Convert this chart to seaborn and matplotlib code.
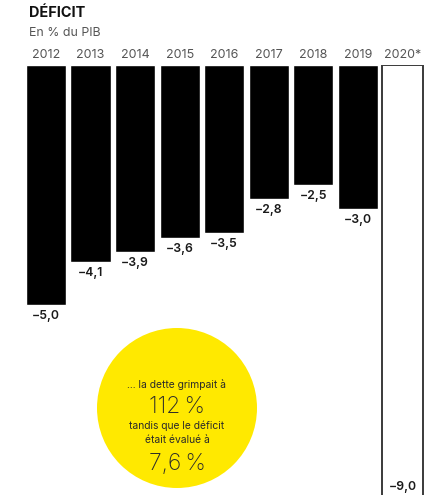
import matplotlib
matplotlib.use("Agg")
import matplotlib.pyplot as plt
from matplotlib.patches import Ellipse
import seaborn as sns
import pandas as pd

# Public deficit, % of GDP
years = ["2012", "2013", "2014", "2015", "2016", "2017", "2018", "2019", "2020*"]
deficit = [-5.0, -4.1, -3.9, -3.6, -3.5, -2.8, -2.5, -3.0, -9.0]

title = "DÉFICIT"
subtitle = "En % du PIB"
bubble_lines = ["... la dette grimpait à", "112\u2009%", "tandis que le déficit",
                "était évalué à", "7,6\u2009%"]

sns.set_theme(style="white")
plt.rcParams["font.family"] = ["Inter", "DejaVu Sans"]

W, H = 431, 495
fig = plt.figure(figsize=(W / 100, H / 100), dpi=100)

# axes geometry in pixels
left_px, right_px = 23.7, 424.8
top_px = 65
px_per_unit = 48
ax = fig.add_axes([left_px / W, 0, (right_px - left_px) / W, (H - top_px) / H])

df = pd.DataFrame({"year": years, "deficit": deficit})
sns.barplot(data=df, x="year", y="deficit", color="black", width=0.9,
            saturation=1, ax=ax)
ax.set_xlim(-0.5, len(years) - 0.5)
ax.set_ylim(-(H - top_px) / px_per_unit, 0)
ax.axis("off")

# projected year: outlined bar
last = ax.patches[len(years) - 1]
last.set_facecolor("white")
last.set_edgecolor("#3a3a3a")
last.set_linewidth(1.4)

# value labels
for i, v in enumerate(deficit):
    txt = "−" + f"{abs(v):.1f}".replace(".", ",")
    if i == len(deficit) - 1:
        y = v + 0.2
    else:
        y = v - 0.23
    ax.text(i, y, txt, ha="center", va="center", fontsize=8.8,
            fontweight="semibold", color="#1a1a1a")

# year labels above bars
for i, yr in enumerate(years):
    ax.text(i, 0.2, yr, ha="center", va="center", fontsize=9,
            color="#555555", clip_on=False)

# title and subtitle
fig.text(29 / W, 1 - 13 / H, title, ha="left", va="center", fontsize=10.4,
         fontweight="bold", color="#111111")
fig.text(29 / W, 1 - 33 / H, subtitle, ha="left", va="center", fontsize=8.9,
         color="#555555")

# yellow bubble
pitch = (right_px - left_px) / len(years)
cx = (177 - left_px) / pitch - 0.5
cy = -(408 - top_px) / px_per_unit
r = 80
ax.add_patch(Ellipse((cx, cy), 2 * r / pitch, 2 * r / px_per_unit,
                     facecolor="#FFE900", edgecolor="none", zorder=3))

line_y = [385, 407, 426, 440, 464]
sizes = [7.4, 16.5, 7.4, 7.4, 16.5]
for t, yp, s in zip(bubble_lines, line_y, sizes):
    ax.text(cx, -(yp - top_px) / px_per_unit, t, ha="center", va="center",
            fontsize=s, color="#2a2a2a", fontweight="light" if s > 10 else "normal",
            zorder=4)

fig.savefig("out.png", dpi=100)
